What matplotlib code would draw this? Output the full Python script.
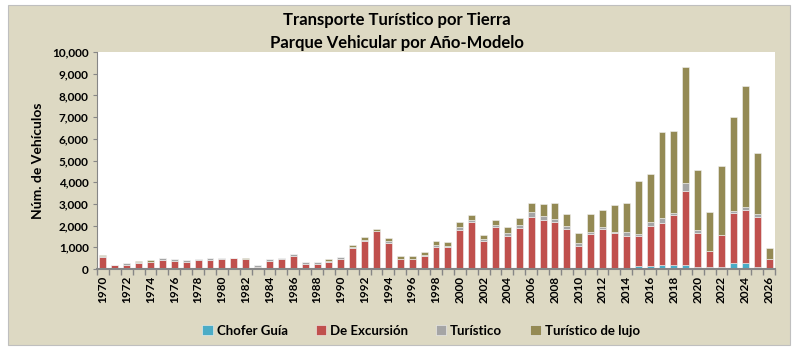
"""
Parque vehicular del transporte turístico por tierra, por año-modelo.
Barras apiladas por tipo de servicio.
"""

import matplotlib
matplotlib.use("Agg")
import matplotlib.pyplot as plt
import numpy as np
from matplotlib.patches import Rectangle
from matplotlib.ticker import FuncFormatter, MultipleLocator

YEARS = list(range(1970, 2027))

CHOFER_GUIA = [0] * 41 + [10, 60, 60, 60, 120, 120, 200, 170, 170, 110,
                          80, 110, 260, 260, 110, 0]
DE_EXCURSION = [560, 170, 200, 270, 300, 430, 370, 330, 400, 430,
                480, 520, 440, 100, 380, 450, 620, 230, 230, 320,
                450, 970, 1270, 1730, 1220, 450, 460, 590, 1020, 1030,
                1800, 2170, 1310, 1920, 1530, 1870, 2390, 2270, 2180, 1850,
                1080, 1590, 1800, 1600, 1450, 1390, 1840, 1930, 2300, 3440,
                1560, 740, 1450, 2330, 2440, 2270, 450]
TURISTICO = [30, 20, 80, 70, 20, 70, 80, 80, 80, 70,
             20, 0, 20, 90, 70, 70, 90, 80, 80, 50,
             100, 60, 75, 20, 90, 30, 20, 60, 75, 45,
             120, 80, 75, 90, 110, 140, 215, 155, 140, 110,
             140, 120, 80, 60, 185, 80, 185, 230, 90, 370,
             140, 15, 15, 60, 140, 140, 0]
TURISTICO_LUJO = [60, 0, 10, 10, 80, 0, 0, 0, 0, 0,
                  0, 0, 60, 0, 0, 0, 0, 0, 0, 80,
                  20, 60, 110, 110, 110, 140, 110, 140, 215, 170,
                  260, 230, 185, 260, 290, 340, 430, 570, 710, 570,
                  430, 830, 790, 1250, 1330, 2450, 2250, 3950, 3800, 5320,
                  2750, 1770, 3150, 4340, 5600, 2830, 520]

SERIES = [
    ("Chofer Guía", CHOFER_GUIA, "#4BACC6"),
    ("De Excursión", DE_EXCURSION, "#C0504D"),
    ("Turístico", TURISTICO, "#A5A5A5"),
    ("Turístico de lujo", TURISTICO_LUJO, "#948A54"),
]

BG = "#DDD9C3"
AXIS_GRAY = "#868686"

plt.rcParams["font.family"] = ["Lato", "DejaVu Sans"]

fig = plt.figure(figsize=(7.98, 3.5), dpi=100, facecolor="white")
fig.patches.append(Rectangle((8 / 798, 5 / 350), 782 / 798, 340 / 350,
                             transform=fig.transFigure, facecolor=BG,
                             edgecolor="#BFBFBF", linewidth=0.8, zorder=-1))
ax = fig.add_axes([97 / 798, 1 - 269 / 350, 678 / 798, 217 / 350])
ax.set_facecolor("white")

x = np.arange(len(YEARS))
bottom = np.zeros(len(YEARS))
for name, vals, color in SERIES:
    vals = np.array(vals, dtype=float)
    ax.bar(x, vals, 0.58, bottom=bottom, color=color, label=name,
           edgecolor="#F2F2F2", linewidth=0.4)
    bottom += vals

ax.set_xlim(-0.5, len(YEARS) - 0.5)
ax.set_ylim(0, 10000)
ax.yaxis.set_major_locator(MultipleLocator(1000))
ax.yaxis.set_major_formatter(FuncFormatter(lambda v, _: f"{int(v):,}"))

ax.set_xticks(x[::2])
ax.set_xticklabels([str(y) for y in YEARS[::2]], rotation=90,
                   fontsize=8.5, fontweight="bold")
ax.set_xticks(np.arange(-0.5, len(YEARS)), minor=True)
ax.tick_params(axis="x", which="major", length=0, pad=5)
ax.tick_params(axis="x", which="minor", length=4, color=AXIS_GRAY, width=1)
ax.tick_params(axis="y", length=3, color=AXIS_GRAY, labelsize=8.5, pad=3)
for lab in ax.get_yticklabels():
    lab.set_fontweight("bold")

for side in ("top", "right"):
    ax.spines[side].set_visible(False)
for side in ("left", "bottom"):
    ax.spines[side].set_color(AXIS_GRAY)
ax.spines["bottom"].set_linewidth(1.5)

ax.set_ylabel("Núm. de Vehículos", fontsize=10, fontweight="bold", labelpad=6)

fig.text(0.4975, 1 - 20 / 350, "Transporte Turístico por Tierra",
         ha="center", va="center", fontsize=12, fontweight="bold")
fig.text(0.4975, 1 - 43 / 350, "Parque Vehicular por Año-Modelo",
         ha="center", va="center", fontsize=12, fontweight="bold")

fig.legend(loc="center", bbox_to_anchor=(421 / 798, 1 - 331 / 350), ncol=4,
           frameon=False, handlelength=0.8, handleheight=0.8,
           handletextpad=0.3, columnspacing=2.1,
           prop={"size": 9.5, "weight": "bold"})

plt.savefig("out.png", dpi=100, facecolor=fig.get_facecolor())
plt.close()
